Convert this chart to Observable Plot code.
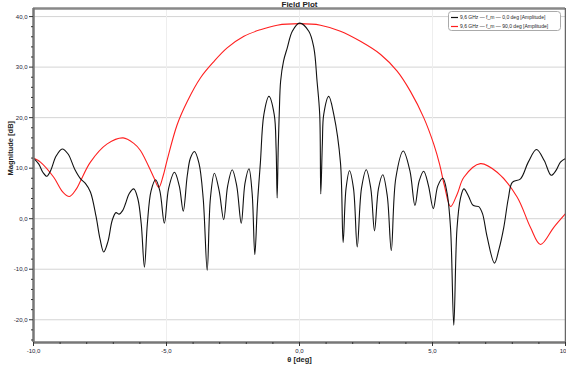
<!DOCTYPE html>
<html>
<head>
<meta charset="utf-8">
<script src="https://cdn.jsdelivr.net/npm/d3@7"></script>
<script src="https://cdn.jsdelivr.net/npm/@observablehq/plot@0.6"></script>
<style>
  html, body { margin: 0; padding: 0; overflow: hidden; background: #fff; }
  svg { display: block; }
</style>
</head>
<body>
<div id="chart"></div>
<script>
const chartTitle = "Field Plot";
const xLabel = "θ [deg]";
const yLabel = "Magnitude [dB]";
const seriesNames = ["9,6 GHz — f_m — 0,0 deg [Amplitude]", "9,6 GHz — f_m — 90,0 deg [Amplitude]"];
const seriesColors = ["#111111", "#ff1f1f"];

const xTicks = [-10, -5, 0, 5, 10];
const yTicks = [-20, -10, 0, 10, 20, 30, 40];
const xMinor = [-9,-8,-7,-6,-4,-3,-2,-1,1,2,3,4,6,7,8,9];
const yMinor = [-24,-22,-18,-16,-14,-12,-8,-6,-4,-2,2,4,6,8,12,14,16,18,22,24,26,28,32,34,36,38];

// Series 1: phi = 0 deg (black)
const theta0 = [-10.0,-9.8,-9.65,-9.5,-9.35,-9.15,-8.92,-8.7,-8.45,-8.23,-8.05,-7.86,-7.65,-7.5,-7.36,-7.2,-7.04,-6.9,-6.78,-6.65,-6.54,-6.4,-6.23,-6.08,-5.95,-5.83,-5.72,-5.58,-5.41,-5.25,-5.08,-4.92,-4.70,-4.52,-4.37,-4.22,-4.10,-3.95,-3.78,-3.62,-3.47,-3.35,-3.2,-3.02,-2.85,-2.7,-2.53,-2.36,-2.19,-2.05,-1.90,-1.78,-1.68,-1.58,-1.47,-1.34,-1.15,-0.95,-0.88,-0.84,-0.80,-0.76,-0.71,-0.60,-0.46,-0.27,0.0,0.35,0.54,0.66,0.76,0.80,0.86,0.91,1.10,1.29,1.54,1.64,1.75,1.88,2.03,2.17,2.33,2.51,2.68,2.82,2.97,3.13,3.30,3.45,3.62,3.90,4.15,4.34,4.50,4.67,4.85,5.03,5.20,5.39,5.55,5.68,5.80,5.92,6.05,6.18,6.35,6.5,6.6,6.74,6.88,7.05,7.33,7.5,7.68,7.85,8.0,8.31,8.6,8.91,9.2,9.46,9.65,9.81,10.0];
const mag0 = [12.0,10.8,9.2,8.4,9.6,12.4,13.8,12.8,9.8,7.9,7.0,5.3,0.5,-4.0,-6.6,-4.5,-0.3,1.2,0.9,1.6,3.0,5.0,5.9,4.0,-1.0,-9.6,-1.0,5.5,7.7,5.5,-0.9,6.0,9.2,6.5,1.5,8.5,12.0,13.3,11.0,4.0,-10.2,4.0,9.0,5.5,-0.2,6.5,9.7,6.5,-0.9,7.0,9.9,5.0,-7.1,3.0,11.1,20.6,24.2,20.6,14.0,4.1,14.0,21.0,27.2,31.2,33.8,37.1,38.7,37.1,33.8,27.2,20.6,4.9,15.0,20.6,24.2,20.6,11.1,-4.7,6.0,9.5,6.0,-5.6,6.0,9.7,6.0,-2.4,6.0,8.7,4.5,-6.3,8.0,13.4,9.5,2.6,7.5,9.4,6.5,2.0,6.5,8.0,5.0,-2.0,-21.1,-2.0,4.0,5.9,4.5,2.8,2.5,2.4,1.0,-3.5,-8.8,-6.0,-1.7,4.0,7.2,7.9,11.2,13.7,11.5,8.6,9.6,11.2,11.9];

// Series 2: phi = 90 deg (red)
const theta90 = [-10.0,-9.74,-9.24,-8.9,-8.65,-8.4,-8.23,-7.86,-7.23,-6.63,-6.23,-5.98,-5.48,-5.29,-5.12,-5.0,-4.6,-4.22,-3.72,-3.22,-2.72,-2.09,-1.47,-0.84,0.0,0.79,1.54,2.29,3.05,3.67,4.17,4.67,5.05,5.27,5.45,5.68,5.93,6.18,6.80,7.43,8.18,8.68,9.06,9.56,10.0];
const mag90 = [12.0,11.2,8.2,5.3,4.4,5.8,7.5,11.2,14.8,16.0,14.9,13.5,8.2,6.2,8.6,11.1,18.6,23.2,27.9,31.1,33.8,36.1,37.4,38.3,38.6,38.3,37.1,35.1,32.5,29.2,25.2,20.0,14.7,10.7,6.5,2.4,4.9,8.2,10.9,9.2,4.3,-1.7,-5.1,-1.7,1.0];

const data0 = theta0.map((t, i) => ({theta: t, mag: mag0[i]}));
const data90 = theta90.map((t, i) => ({theta: t, mag: mag90[i]}));

const fmt = d => d.toFixed(1).replace(".", ",");
const FONT = "'Liberation Sans', 'DejaVu Sans', sans-serif";

const yDomain = [-24.5, 41.6];

const plot = Plot.plot({
  width: 566,
  height: 366,
  marginLeft: 33,
  marginRight: 1,
  marginTop: 8,
  marginBottom: 24,
  style: {fontFamily: FONT, background: "#fff", overflow: "visible"},
  x: {domain: [-10, 10]},
  y: {domain: yDomain},
  marks: [
    Plot.gridY(yTicks, {stroke: "#d4d4d4", strokeOpacity: 1}),
    Plot.gridX([-5, 0, 5], {stroke: "#eeeeee", strokeOpacity: 1}),
    Plot.line(data90, {x: "theta", y: "mag", stroke: seriesColors[1], strokeWidth: 1.1, curve: "catmull-rom"}),
    Plot.line(data0, {x: "theta", y: "mag", stroke: seriesColors[0], strokeWidth: 1.1, curve: "catmull-rom"}),
    Plot.ruleY([yDomain[1]], {stroke: "#888", strokeWidth: 2.5}),
    Plot.ruleX([10], {stroke: "#666", strokeWidth: 1.5}),
    Plot.ruleX([-10], {stroke: "#777", strokeWidth: 2.5}),
    Plot.ruleY([yDomain[0]], {stroke: "#777", strokeWidth: 2.5}),
    Plot.axisY(yTicks, {tickSize: 4, tickPadding: 2, tickFormat: fmt, fontSize: 6, fill: "#223", stroke: "#333", label: null}),
    Plot.axisY(yMinor, {tickSize: 2, tickFormat: () => "", stroke: "#333", label: null}),
    Plot.axisX(xTicks, {tickSize: 4, tickPadding: 2, tickFormat: fmt, fontSize: 6, fill: "#223", stroke: "#333", label: null}),
    Plot.axisX(xMinor, {tickSize: 2, tickFormat: () => "", stroke: "#333", label: null}),
    Plot.text([yLabel], {frameAnchor: "left", dx: -23, rotate: -90, fontSize: 7.5, fontWeight: "bold", fill: "#222"}),
    Plot.text([xLabel], {frameAnchor: "bottom", dy: 19, fontSize: 7.5, fontWeight: "bold", fill: "#222"}),
    Plot.text([chartTitle], {frameAnchor: "top", dy: -2, lineAnchor: "bottom", fontSize: 8, fontWeight: "bold", fill: "#222"})
  ]
});

document.getElementById("chart").appendChild(plot);

// Legend box (top right inside plot)
const svg = d3.select(plot);
const lg = svg.append("g").attr("font-family", FONT).attr("text-anchor", "start");
lg.append("rect").attr("x", 448.5).attr("y", 11.5).attr("width", 112).attr("height", 19)
  .attr("rx", 3).attr("fill", "#fff").attr("stroke", "#aaa");
seriesNames.forEach((name, i) => {
  const y = 17.5 + i * 9;
  lg.append("line").attr("x1", 451).attr("x2", 458).attr("y1", y).attr("y2", y)
    .attr("stroke", seriesColors[i]).attr("stroke-width", 1.2);
  lg.append("text").attr("x", 460).attr("y", y).attr("dy", "0.35em")
    .attr("text-anchor", "start")
    .attr("font-size", 5).attr("fill", "#222").text(name);
});
</script>
</body>
</html>
